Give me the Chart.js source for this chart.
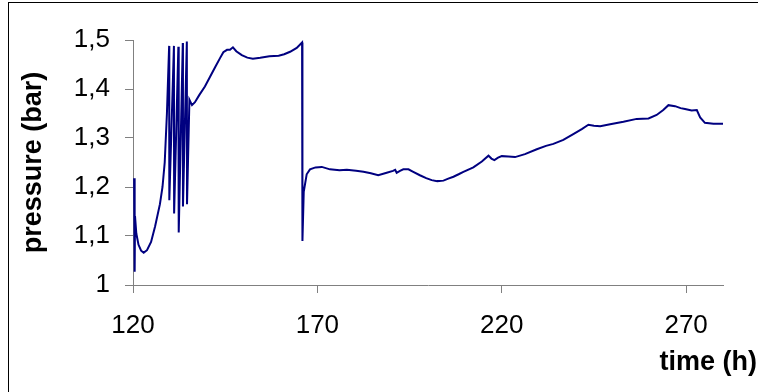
<!DOCTYPE html>
<html>
<head>
<meta charset="utf-8">
<script src="https://cdn.jsdelivr.net/npm/chart.js@4/dist/chart.umd.min.js"></script>
<style>
  html, body { margin: 0; padding: 0; background: #fff; }
  #wrap { width: 758px; height: 392px; }
</style>
</head>
<body>
<div id="wrap"><canvas id="pressureChart"></canvas></div>
<script>
// pressure log, time in hours
const hours = [
  120.3, 120.45, 120.55, 120.9, 121.5, 122.2, 122.9, 123.8, 124.9, 126.0,
  127.3, 128.0, 128.6, 129.2, 129.8, 129.85, 131.1, 131.15, 132.3, 132.4,
  133.5, 133.55, 134.6, 134.65, 135.3, 136.0, 136.8, 138.0, 139.5, 140.9,
  142.3, 143.6, 144.5, 145.5, 146.3, 147.1, 148.0, 149.5, 151.0, 152.5,
  154.5, 157.0, 159.5, 161.0, 162.6, 164.4, 165.85, 165.95, 166.3, 167.1,
  168.0, 169.5, 171.2, 173.4, 176.0, 178.0, 180.5, 182.5, 184.5, 186.5,
  188.8, 190.5, 191.1, 191.5, 192.4, 193.3, 194.7, 196.0, 197.8, 199.5,
  201.0, 202.5, 204.2, 205.5, 206.9, 208.3, 209.6, 212.3, 214.6, 216.4,
  217.2, 218.0, 219.0, 220.0, 221.8, 223.6, 226.3, 229.5, 232.0, 234.0,
  236.7, 239.4, 241.7, 243.5, 245.0, 246.7, 249.4, 253.0, 256.6, 259.8,
  262.0, 263.8, 265.2, 267.0, 268.5, 269.7, 271.5, 272.9, 273.8, 275.1,
  277.4, 280.0
];
const pressure = [
  1.218, 1.027, 1.140, 1.105, 1.082, 1.070, 1.066, 1.071, 1.088, 1.120,
  1.165, 1.200, 1.250, 1.350, 1.488, 1.173, 1.488, 1.146, 1.486, 1.107,
  1.494, 1.160, 1.497, 1.165, 1.378, 1.367, 1.373, 1.388, 1.405, 1.425,
  1.445, 1.463, 1.475, 1.480, 1.480, 1.485, 1.477, 1.469, 1.464, 1.462,
  1.464, 1.467, 1.468, 1.471, 1.476, 1.484, 1.495, 1.090, 1.190, 1.226,
  1.236, 1.240, 1.241, 1.236, 1.234, 1.235, 1.233, 1.231, 1.228, 1.224,
  1.229, 1.233, 1.235, 1.229, 1.233, 1.236, 1.236, 1.231, 1.224, 1.218,
  1.214, 1.212, 1.213, 1.217, 1.221, 1.226, 1.231, 1.240, 1.252, 1.264,
  1.258, 1.255, 1.260, 1.263, 1.262, 1.261, 1.267, 1.277, 1.284, 1.288,
  1.296, 1.308, 1.318, 1.327, 1.325, 1.324, 1.328, 1.333, 1.339, 1.340,
  1.347, 1.357, 1.367, 1.365, 1.361, 1.359, 1.356, 1.357, 1.342, 1.331,
  1.329, 1.329
];
const xTicks = [120, 170, 220, 270];
const yTicks = [1, 1.1, 1.2, 1.3, 1.4, 1.5];

const points = hours.map((h, i) => ({ x: h, y: pressure[i] }));

// frame round the whole picture + the x axis caption at bottom right
const framePlugin = {
  id: "frame",
  beforeDraw(chart) {
    const c = chart.ctx;
    c.save();
    c.fillStyle = "#fff";
    c.fillRect(0, 0, chart.width, chart.height);
    c.strokeStyle = "#000";
    c.lineWidth = 1;
    c.strokeRect(8.5, 2.5, 800, 420);
    c.restore();
  },
  afterDraw(chart) {
    const c = chart.ctx;
    c.save();
    c.font = "bold 27px 'Liberation Sans', Arial, sans-serif";
    c.fillStyle = "#000";
    c.textAlign = "right";
    c.textBaseline = "alphabetic";
    c.fillText("time (h)", 757, 370);
    c.restore();
  },
};

const ctx = document.getElementById("pressureChart");
new Chart(ctx, {
  type: "line",
  data: {
    datasets: [
      {
        label: "pressure",
        data: points,
        borderColor: "#000080",
        borderWidth: 2,
        pointRadius: 0,
        tension: 0,
        fill: false,
      },
    ],
  },
  options: {
    responsive: true,
    maintainAspectRatio: false,
    animation: false,
    layout: {
      padding: { left: 10, top: 40, right: 35, bottom: 0 },
    },
    plugins: {
      legend: { display: false },
      tooltip: { enabled: false },
    },
    scales: {
      x: {
        type: "linear",
        min: 120,
        max: 280,
        afterBuildTicks: (scale) => {
          scale.ticks = xTicks.map((v) => ({ value: v }));
        },
        afterFit: (scale) => {
          scale.height = 107;
        },
        grid: {
          drawOnChartArea: false,
          drawTicks: true,
          tickLength: 8,
          color: "#808080",
        },
        border: { color: "#808080", width: 1 },
        ticks: {
          autoSkip: false,
          maxRotation: 0,
          padding: 17,
          color: "#000",
          font: { family: "'Liberation Sans', Arial, sans-serif", size: 26 },
        },
      },
      y: {
        min: 1,
        max: 1.5,
        afterBuildTicks: (scale) => {
          scale.ticks = yTicks.map((v) => ({ value: v }));
        },
        afterFit: (scale) => {
          scale.width = 123;
        },
        grid: {
          drawOnChartArea: false,
          drawTicks: true,
          tickLength: 8,
          color: "#808080",
        },
        border: { color: "#808080", width: 1 },
        ticks: {
          padding: 15,
          color: "#000",
          font: { family: "'Liberation Sans', Arial, sans-serif", size: 26 },
          callback: (v) => (v === 1 ? "1" : v.toFixed(1).replace(".", ",")),
        },
        title: {
          display: true,
          text: "pressure (bar)",
          color: "#000",
          padding: { top: 7, bottom: 0 },
          font: {
            family: "'Liberation Sans', Arial, sans-serif",
            size: 27,
            weight: "bold",
          },
        },
      },
    },
  },
  plugins: [framePlugin],
});
</script>
</body>
</html>
